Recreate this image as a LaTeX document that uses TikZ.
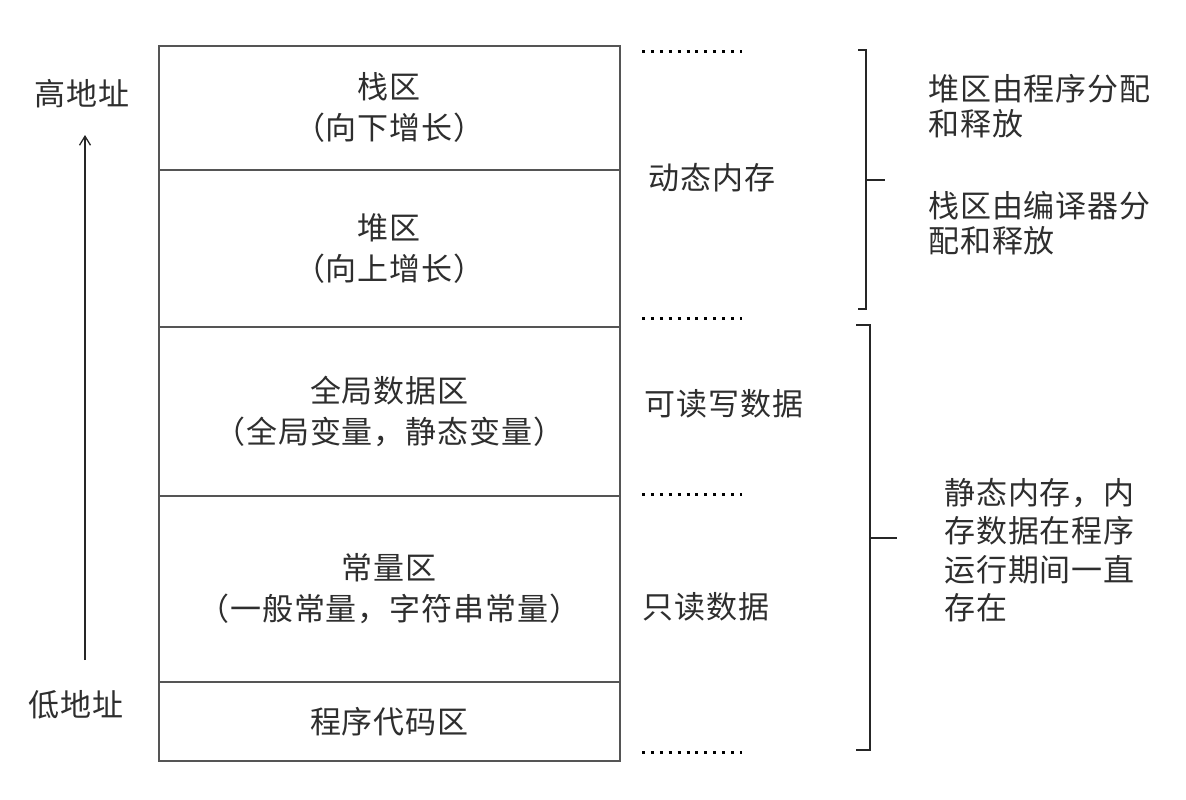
\documentclass[tikz,border=0pt]{standalone}
\usepackage{fontspec}
\setmainfont{Noto Sans CJK SC}[LetterSpace=3]
\usetikzlibrary{arrows.meta}
\definecolor{txt}{HTML}{2E2E2E}
\definecolor{frame}{HTML}{555555}
\tikzset{
  region/.style={draw=frame, line width=1.8pt, minimum width=461pt, inner sep=0pt, anchor=north west, align=center, text=txt, font=\fontsize{31}{41}\selectfont},
  lbl/.style={text=txt, font=\fontsize{31}{36}\selectfont, inner sep=0pt},
  note/.style={text=txt, font=\fontsize{31}{35}\selectfont, inner sep=0pt, anchor=north west, align=left},
  dotline/.style={line width=3pt, dash pattern=on 3pt off 5.9pt, draw=black},
  bracket/.style={draw=black!85, line width=2.4pt},
}
\begin{document}
\begin{tikzpicture}[x=1pt,y=-1pt]
\useasboundingbox (0,0) rectangle (1186,800);
% memory regions
\node[region, minimum height=124pt] (stack) at (158,45) {栈区\\（向下增长）};
\node[region, minimum height=157pt] (heap) at (158,169) {堆区\\（向上增长）};
\node[region, minimum height=169pt] (global) at (158,326) {全局数据区\\（全局变量，静态变量）};
\node[region, minimum height=186pt] (const) at (158,495) {常量区\\（一般常量，字符串常量）};
\node[region, minimum height=79pt] (code) at (158,681) {程序代码区};
% address arrow
\node[lbl] (high) at (82,94) {高地址};
\node[lbl] (low) at (76,705) {低地址};
\coordinate (abot) at (85,660);
\coordinate (atop) at (85,135);
\draw[line width=1.3pt, draw=black!85, -{Straight Barb[length=9pt,width=11pt,line width=1.3pt]}] (abot) -- (atop);
% dotted separators
\coordinate (d1a) at (642,52);  \coordinate (d1b) at (742,52);
\coordinate (d2a) at (642,318); \coordinate (d2b) at (742,318);
\coordinate (d3a) at (642,494); \coordinate (d3b) at (742,494);
\coordinate (d4a) at (642,752); \coordinate (d4b) at (742,752);
\draw[dotline] (d1a) -- (d1b);
\draw[dotline] (d2a) -- (d2b);
\draw[dotline] (d3a) -- (d3b);
\draw[dotline] (d4a) -- (d4b);
% category labels
\node[lbl] (dyn) at (712,178) {动态内存};
\node[lbl] (rw) at (724,404) {可读写数据};
\node[lbl] (ro) at (706,607) {只读数据};
% brackets
\coordinate (b1t) at (866,50); \coordinate (b1b) at (866,309); \coordinate (b1m) at (866,180);
\draw[bracket] (858,50) -- (b1t) -- (b1b) -- (858,309);
\draw[bracket] (b1m) -- (885,180);
\coordinate (b2t) at (870,325); \coordinate (b2b) at (870,750); \coordinate (b2m) at (870,538);
\draw[bracket] (856,325) -- (b2t) -- (b2b) -- (856,750);
\draw[bracket] (b2m) -- (897,538);
% notes
\node[note] (n1) at (928,74) {堆区由程序分配\\和释放};
\node[note] (n2) at (928,191) {栈区由编译器分\\配和释放};
\node[note, font=\fontsize{31}{38.5}\selectfont] (n3) at (944,478) {静态内存，内\\存数据在程序\\运行期间一直\\存在};
\end{tikzpicture}
\end{document}
